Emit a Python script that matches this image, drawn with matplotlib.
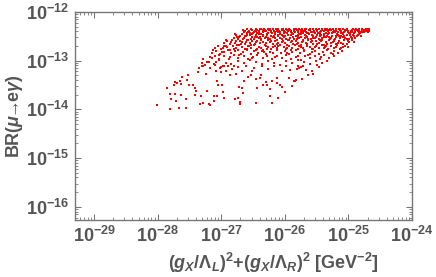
import numpy as np
import matplotlib
matplotlib.use('Agg')
import matplotlib.pyplot as plt
from matplotlib.ticker import LogLocator, NullFormatter

plt.rcParams['font.family'] = ['Liberation Sans', 'DejaVu Sans']
plt.rcParams['font.weight'] = 'bold'
plt.rcParams['axes.labelweight'] = 'bold'
plt.rcParams['mathtext.fontset'] = 'custom'
plt.rcParams['mathtext.rm'] = 'Liberation Sans:bold'
plt.rcParams['mathtext.it'] = 'Liberation Sans:italic:bold'
plt.rcParams['mathtext.bf'] = 'Liberation Sans:bold'

# scan points, (log10 coupling sum, log10 BR)
# sparse left tail
tail_pts = [
    (-28.01, -13.91), (-27.86, -13.56), (-27.80, -13.68), (-27.80, -13.99), (-27.79, -13.78),
    (-27.75, -13.50), (-27.72, -13.43), (-27.69, -13.45), (-27.65, -13.41), (-27.71, -13.82),
    (-27.72, -13.68), (-27.66, -13.97), (-27.64, -13.71), (-27.63, -13.48), (-27.61, -13.33),
    (-27.56, -13.98), (-27.55, -13.79), (-27.53, -13.29), (-27.54, -13.39), (-27.51, -13.49),
    (-27.44, -13.49), (-27.42, -13.57), (-27.41, -13.71), (-27.37, -13.23), (-27.35, -13.15),
    (-27.39, -13.63), (-27.34, -13.88), (-27.32, -13.72), (-27.28, -13.86), (-27.31, -13.10),
    (-27.28, -13.12), (-27.24, -13.27), (-27.23, -13.63), (-27.20, -13.90), (-27.17, -13.92),
    (-27.18, -13.16), (-27.12, -13.82), (-27.10, -13.08), (-27.08, -13.22), (-27.06, -13.42),
    (-27.05, -13.49), (-27.06, -13.73), (-27.01, -13.24), (-26.99, -13.50), (-26.97, -13.65),
    (-27.00, -13.14), (-27.30, -13.05), (-27.28, -12.96), (-27.25, -13.09), (-27.20, -13.03),
    (-27.13, -12.78), (-27.15, -12.95), (-27.08, -13.02), (-27.04, -12.88), (-27.12, -13.72),
    (-27.18, -13.92),
]

# lower middle part
low_pts = [
    (-27.02, -13.15), (-26.97, -13.10), (-26.92, -13.22), (-26.87, -13.29), (-26.98, -13.65),
    (-26.95, -13.76), (-26.78, -13.79), (-26.73, -13.76), (-26.71, -13.90), (-26.70, -13.84),
    (-26.72, -13.55), (-26.68, -13.56), (-26.66, -13.67), (-26.65, -13.42), (-26.58, -13.33),
    (-26.54, -13.29), (-26.52, -13.22), (-26.48, -13.16), (-26.45, -13.37), (-26.46, -13.86),
    (-26.43, -13.56), (-26.39, -13.35), (-26.38, -13.29), (-26.35, -13.49), (-26.29, -13.43),
    (-26.28, -13.50), (-26.24, -13.72), (-26.23, -13.59), (-26.20, -13.41), (-26.20, -13.86),
    (-26.13, -13.35), (-26.12, -13.46), (-26.10, -13.76), (-26.07, -13.49), (-26.05, -13.54),
    (-26.04, -13.22), (-26.00, -13.65), (-25.94, -13.35), (-25.92, -13.19), (-25.89, -13.53),
    (-25.86, -13.42), (-25.82, -13.39), (-25.81, -13.18), (-25.78, -13.15), (-26.96, -13.12),
    (-26.90, -13.10), (-26.83, -13.18), (-26.80, -13.10), (-26.77, -13.27), (-26.74, -13.14),
    (-26.68, -13.22), (-26.61, -13.11), (-26.36, -13.12), (-26.27, -13.18), (-26.17, -13.10),
    (-25.98, -13.12), (-25.84, -13.42), (-25.80, -13.10), (-25.75, -13.14), (-25.73, -13.37),
    (-25.72, -13.10), (-25.64, -13.29), (-25.57, -13.22), (-25.56, -13.27), (-25.50, -13.09),
    (-25.46, -13.14), (-25.67, -13.20),
]

# middle part, BR between about 4e-14 and 2e-13
mid_pts = [
    (-27.10, -12.74), (-27.05, -12.70), (-27.00, -12.77), (-26.96, -12.69), (-26.91, -12.73),
    (-26.86, -12.78), (-26.82, -12.70), (-26.77, -12.75), (-26.72, -12.68), (-26.68, -12.72),
    (-26.63, -12.77), (-26.58, -12.70), (-26.54, -12.74), (-26.49, -12.68), (-26.44, -12.76),
    (-26.40, -12.71), (-26.35, -12.78), (-26.30, -12.69), (-26.26, -12.73), (-26.21, -12.77),
    (-26.16, -12.70), (-26.12, -12.75), (-26.07, -12.68), (-26.02, -12.72), (-25.98, -12.77),
    (-25.93, -12.70), (-25.88, -12.74), (-25.84, -12.68), (-25.79, -12.76), (-25.74, -12.71),
    (-25.70, -12.78), (-25.65, -12.69), (-25.60, -12.73), (-25.56, -12.77), (-25.51, -12.70),
    (-25.46, -12.75), (-25.42, -12.68), (-25.37, -12.72), (-25.32, -12.77), (-25.28, -12.70),
    (-25.23, -12.74), (-25.18, -12.68), (-25.14, -12.76), (-25.09, -12.71), (-25.05, -12.69),
    (-25.00, -12.73), (-26.98, -12.75), (-26.80, -12.77), (-26.60, -12.76), (-26.38, -12.74),
    (-26.19, -12.72), (-25.96, -12.74), (-25.77, -12.69), (-25.58, -12.76), (-25.39, -12.75),
    (-25.20, -12.71),
    (-27.14, -12.84), (-27.08, -12.80), (-27.02, -12.87), (-26.96, -12.82), (-26.90, -12.79),
    (-26.84, -12.85), (-26.78, -12.81), (-26.72, -12.88), (-26.66, -12.83), (-26.60, -12.79),
    (-26.54, -12.86), (-26.48, -12.81), (-26.42, -12.84), (-26.36, -12.80), (-26.30, -12.87),
    (-26.24, -12.82), (-26.18, -12.85), (-26.12, -12.79), (-26.06, -12.84), (-26.00, -12.81),
    (-25.94, -12.87), (-25.88, -12.82), (-25.82, -12.79), (-25.76, -12.85), (-25.70, -12.81),
    (-25.64, -12.88), (-25.58, -12.83), (-25.52, -12.80), (-25.46, -12.86), (-25.40, -12.82),
    (-25.34, -12.79), (-25.28, -12.85), (-25.22, -12.81), (-25.16, -12.84), (-25.10, -12.80),
    (-27.18, -12.93), (-27.10, -12.90), (-27.03, -12.96), (-26.95, -12.91), (-26.88, -12.97),
    (-26.80, -12.89), (-26.73, -12.94), (-26.65, -12.90), (-26.58, -12.96), (-26.50, -12.92),
    (-26.43, -12.89), (-26.35, -12.95), (-26.28, -12.91), (-26.20, -12.97), (-26.13, -12.90),
    (-26.05, -12.94), (-25.98, -12.89), (-25.90, -12.96), (-25.83, -12.92), (-25.75, -12.98),
    (-25.68, -12.90), (-25.60, -12.95), (-25.53, -12.91), (-25.45, -12.97), (-25.38, -12.89),
    (-25.30, -12.94), (-25.23, -12.91),
    (-27.22, -13.02), (-27.12, -13.06), (-27.03, -12.99), (-26.93, -13.04), (-26.84, -13.07),
    (-26.74, -13.01), (-26.65, -13.05), (-26.55, -12.99), (-26.46, -13.03), (-26.36, -13.07),
    (-26.27, -13.00), (-26.17, -13.04), (-26.08, -13.08), (-25.98, -13.01), (-25.89, -13.05),
    (-25.79, -12.99), (-25.70, -13.03), (-25.60, -13.07), (-25.51, -13.00), (-25.41, -13.04),
    (-25.33, -13.01),
    (-26.99, -12.83), (-26.87, -12.92), (-26.69, -12.86), (-26.51, -12.95), (-26.33, -12.83),
    (-26.15, -12.93), (-25.97, -12.84), (-25.79, -12.90), (-25.61, -12.86), (-25.43, -12.93),
    (-25.25, -12.86), (-26.92, -12.70), (-26.74, -12.79), (-26.56, -12.69), (-26.46, -12.79),
    (-26.28, -12.76), (-26.10, -12.69), (-25.91, -12.78), (-25.72, -12.75), (-25.53, -12.73),
    (-25.35, -12.69), (-25.12, -12.74),
]

# dense band just under the cap at ~4e-13
top_pts = [
    (-26.66, -12.37), (-26.62, -12.40), (-26.59, -12.36), (-26.55, -12.43), (-26.52, -12.38),
    (-26.49, -12.41), (-26.46, -12.36), (-26.43, -12.44), (-26.40, -12.39), (-26.37, -12.36),
    (-26.34, -12.42), (-26.31, -12.38), (-26.28, -12.45), (-26.25, -12.37), (-26.22, -12.41),
    (-26.19, -12.36), (-26.16, -12.43), (-26.13, -12.39), (-26.10, -12.36), (-26.07, -12.42),
    (-26.04, -12.38), (-26.01, -12.44), (-25.98, -12.36), (-25.95, -12.40), (-25.92, -12.37),
    (-25.89, -12.43), (-25.86, -12.39), (-25.83, -12.36), (-25.80, -12.41), (-25.77, -12.45),
    (-25.74, -12.37), (-25.71, -12.40), (-25.68, -12.36), (-25.65, -12.43), (-25.62, -12.38),
    (-25.59, -12.41), (-25.56, -12.36), (-25.53, -12.44), (-25.50, -12.39), (-25.47, -12.36),
    (-25.44, -12.42), (-25.41, -12.38), (-25.38, -12.45), (-25.35, -12.37), (-25.32, -12.40),
    (-25.29, -12.36), (-25.26, -12.43), (-25.23, -12.39), (-25.20, -12.36), (-25.17, -12.41),
    (-25.14, -12.38), (-25.11, -12.44), (-25.08, -12.36), (-25.05, -12.40), (-25.02, -12.37),
    (-24.99, -12.43), (-24.96, -12.39), (-24.93, -12.36), (-24.90, -12.41), (-24.87, -12.38),
    (-24.84, -12.36), (-24.81, -12.42), (-24.78, -12.39), (-24.75, -12.37), (-24.72, -12.40),
    (-24.69, -12.38), (-24.67, -12.36),
    (-26.64, -12.42), (-26.60, -12.44), (-26.57, -12.39), (-26.53, -12.35), (-26.50, -12.44),
    (-26.47, -12.39), (-26.44, -12.37), (-26.41, -12.42), (-26.38, -12.45), (-26.35, -12.38),
    (-26.32, -12.35), (-26.29, -12.40), (-26.26, -12.43), (-26.23, -12.36), (-26.20, -12.44),
    (-26.17, -12.39), (-26.14, -12.35), (-26.11, -12.42), (-26.08, -12.45), (-26.05, -12.36),
    (-26.02, -12.40), (-25.99, -12.42), (-25.96, -12.44), (-25.93, -12.35), (-25.90, -12.39),
    (-25.87, -12.45), (-25.84, -12.42), (-25.81, -12.37), (-25.78, -12.35), (-25.75, -12.42),
    (-25.72, -12.44), (-25.69, -12.39), (-25.66, -12.35), (-25.63, -12.44), (-25.60, -12.37),
    (-25.57, -12.42), (-25.54, -12.39), (-25.51, -12.36), (-25.48, -12.43), (-25.45, -12.45),
    (-25.42, -12.35), (-25.39, -12.40), (-25.36, -12.43), (-25.33, -12.36), (-25.30, -12.44),
    (-25.27, -12.38), (-25.24, -12.35), (-25.21, -12.42), (-25.18, -12.45), (-25.15, -12.36),
    (-25.12, -12.40), (-25.09, -12.43), (-25.06, -12.38), (-25.03, -12.35), (-25.00, -12.41),
    (-24.97, -12.44), (-24.94, -12.37), (-24.91, -12.43), (-24.88, -12.35), (-24.85, -12.40),
    (-24.82, -12.44), (-24.79, -12.36), (-24.76, -12.42), (-24.73, -12.36), (-24.70, -12.41),
    (-26.65, -12.39), (-26.58, -12.41), (-26.51, -12.37), (-26.45, -12.40), (-26.39, -12.35),
    (-26.33, -12.40), (-26.27, -12.35), (-26.21, -12.39), (-26.15, -12.41), (-26.09, -12.39),
    (-26.03, -12.35), (-25.97, -12.38), (-25.91, -12.41), (-25.85, -12.36), (-25.79, -12.39),
    (-25.73, -12.35), (-25.67, -12.41), (-25.61, -12.35), (-25.55, -12.41), (-25.49, -12.37),
    (-25.43, -12.39), (-25.37, -12.35), (-25.31, -12.38), (-25.25, -12.41), (-25.19, -12.39),
    (-25.13, -12.36), (-25.07, -12.42), (-25.01, -12.39), (-24.95, -12.41), (-24.89, -12.38),
    (-24.83, -12.39), (-24.77, -12.41), (-24.71, -12.36), (-24.68, -12.39),
    (-26.80, -12.53), (-26.77, -12.48), (-26.73, -12.56), (-26.70, -12.50), (-26.67, -12.46),
    (-26.64, -12.54), (-26.61, -12.49), (-26.58, -12.57), (-26.55, -12.47), (-26.52, -12.52),
    (-26.49, -12.55), (-26.46, -12.48), (-26.43, -12.51), (-26.40, -12.46), (-26.37, -12.56),
    (-26.34, -12.50), (-26.31, -12.53), (-26.28, -12.47), (-26.25, -12.55), (-26.22, -12.49),
    (-26.19, -12.52), (-26.16, -12.46), (-26.13, -12.57), (-26.10, -12.50), (-26.07, -12.54),
    (-26.04, -12.47), (-26.01, -12.51), (-25.98, -12.56), (-25.95, -12.48), (-25.92, -12.53),
    (-25.89, -12.46), (-25.86, -12.55), (-25.83, -12.50), (-25.80, -12.47), (-25.77, -12.54),
    (-25.74, -12.51), (-25.71, -12.57), (-25.68, -12.48), (-25.65, -12.52), (-25.62, -12.46),
    (-25.59, -12.55), (-25.56, -12.49), (-25.53, -12.53), (-25.50, -12.47), (-25.47, -12.56),
    (-25.44, -12.50), (-25.41, -12.54), (-25.38, -12.48), (-25.35, -12.52), (-25.32, -12.46),
    (-25.29, -12.55), (-25.26, -12.49), (-25.23, -12.57), (-25.20, -12.51), (-25.17, -12.47),
    (-25.14, -12.54), (-25.11, -12.50), (-25.08, -12.46), (-25.05, -12.53), (-25.02, -12.48),
    (-24.99, -12.56), (-24.96, -12.51), (-24.93, -12.47), (-24.90, -12.53), (-24.87, -12.49),
    (-24.84, -12.46), (-24.81, -12.50),
    (-26.78, -12.46), (-26.72, -12.51), (-26.66, -12.55), (-26.60, -12.47), (-26.54, -12.56),
    (-26.47, -12.51), (-26.41, -12.54), (-26.35, -12.47), (-26.29, -12.51), (-26.23, -12.56),
    (-26.17, -12.50), (-26.11, -12.47), (-26.05, -12.55), (-25.99, -12.49), (-25.93, -12.57),
    (-25.87, -12.51), (-25.81, -12.55), (-25.75, -12.46), (-25.69, -12.53), (-25.63, -12.56),
    (-25.57, -12.47), (-25.51, -12.51), (-25.45, -12.57), (-25.39, -12.52), (-25.33, -12.49),
    (-25.27, -12.53), (-25.21, -12.55), (-25.15, -12.49), (-25.09, -12.52), (-25.03, -12.55),
    (-24.97, -12.47), (-24.91, -12.50), (-24.85, -12.48),
    (-26.75, -12.52), (-26.63, -12.49), (-26.51, -12.46), (-26.39, -12.52), (-26.27, -12.54),
    (-26.15, -12.53), (-26.03, -12.49), (-25.91, -12.48), (-25.79, -12.52), (-25.67, -12.50),
    (-25.55, -12.54), (-25.43, -12.47), (-25.31, -12.51), (-25.19, -12.49), (-25.07, -12.50),
    (-24.95, -12.53), (-24.83, -12.44),
    (-26.95, -12.64), (-26.91, -12.60), (-26.87, -12.66), (-26.83, -12.58), (-26.79, -12.63),
    (-26.75, -12.67), (-26.71, -12.59), (-26.67, -12.62), (-26.63, -12.66), (-26.59, -12.58),
    (-26.55, -12.63), (-26.51, -12.60), (-26.47, -12.66), (-26.43, -12.59), (-26.39, -12.64),
    (-26.35, -12.61), (-26.31, -12.67), (-26.27, -12.58), (-26.23, -12.62), (-26.19, -12.65),
    (-26.15, -12.59), (-26.11, -12.63), (-26.07, -12.67), (-26.03, -12.60), (-25.99, -12.64),
    (-25.95, -12.58), (-25.91, -12.62), (-25.87, -12.66), (-25.83, -12.59), (-25.79, -12.63),
    (-25.75, -12.67), (-25.71, -12.60), (-25.67, -12.64), (-25.63, -12.58), (-25.59, -12.62),
    (-25.55, -12.66), (-25.51, -12.59), (-25.47, -12.63), (-25.43, -12.60), (-25.39, -12.67),
    (-25.35, -12.61), (-25.31, -12.58), (-25.27, -12.64), (-25.23, -12.60), (-25.19, -12.66),
    (-25.15, -12.59), (-25.11, -12.63), (-25.07, -12.58), (-25.03, -12.65), (-24.99, -12.61),
    (-24.95, -12.58), (-24.91, -12.62),
    (-26.93, -12.58), (-26.85, -12.62), (-26.77, -12.60), (-26.69, -12.66), (-26.61, -12.61),
    (-26.53, -12.67), (-26.45, -12.62), (-26.37, -12.58), (-26.29, -12.63), (-26.21, -12.59),
    (-26.13, -12.66), (-26.05, -12.62), (-25.97, -12.67), (-25.89, -12.60), (-25.81, -12.65),
    (-25.73, -12.62), (-25.65, -12.66), (-25.57, -12.60), (-25.49, -12.65), (-25.41, -12.58),
    (-25.33, -12.65), (-25.25, -12.61), (-25.17, -12.63), (-25.09, -12.66), (-25.01, -12.59),
]

x_ticks = [1e-29, 1e-28, 1e-27, 1e-26, 1e-25, 1e-24]
y_ticks = [1e-16, 1e-15, 1e-14, 1e-13, 1e-12]

grey_txt = '#555555'
grey_frame = '#777777'

fig = plt.figure(figsize=(4.36, 2.77), dpi=100)
ax = fig.add_axes([0.172, 0.206, 0.773, 0.751])

for pts in [tail_pts, low_pts, mid_pts, top_pts]:
    arr = np.array(pts)
    ax.scatter(10 ** arr[:, 0], 10 ** arr[:, 1], s=2.8, marker='s',
               color='#ff0000', linewidths=0)

ax.set_xscale('log')
ax.set_yscale('log')
ax.set_xlim(10 ** -29.3, 1e-24)
ax.set_ylim(10 ** -16.27, 1e-12)
ax.set_xticks(x_ticks)
ax.set_yticks(y_ticks)
ax.xaxis.set_minor_locator(LogLocator(base=10, subs=np.arange(2, 10), numticks=50))
ax.yaxis.set_minor_locator(LogLocator(base=10, subs=np.arange(2, 10), numticks=50))
ax.xaxis.set_minor_formatter(NullFormatter())
ax.yaxis.set_minor_formatter(NullFormatter())

ax.tick_params(which='both', direction='in', top=True, right=True,
               color=grey_frame, labelcolor=grey_txt, labelsize=13)
ax.tick_params(which='major', length=4, width=0.8, pad=4)
ax.tick_params(which='minor', length=2, width=0.6)
for sp in ax.spines.values():
    sp.set_color(grey_frame)
    sp.set_linewidth(1.0)

ax.set_xlabel(r'$(g_X/\Lambda_L)^2$+$(g_X/\Lambda_R)^2$ [GeV$^{-2}$]',
              fontsize=13, fontweight='bold', color=grey_txt)
ax.xaxis.label.set_va('center')
ax.xaxis.set_label_coords(0.59, -0.205)
ax.set_ylabel(r'BR($\mu\!\!\rightarrow\!\!\mathrm{e}\gamma$)', fontsize=13,
              fontweight='bold', color=grey_txt)
ax.yaxis.label.set_va('center')
ax.yaxis.set_label_coords(-0.18, 0.5)

fig.savefig('out.png', dpi=100)
